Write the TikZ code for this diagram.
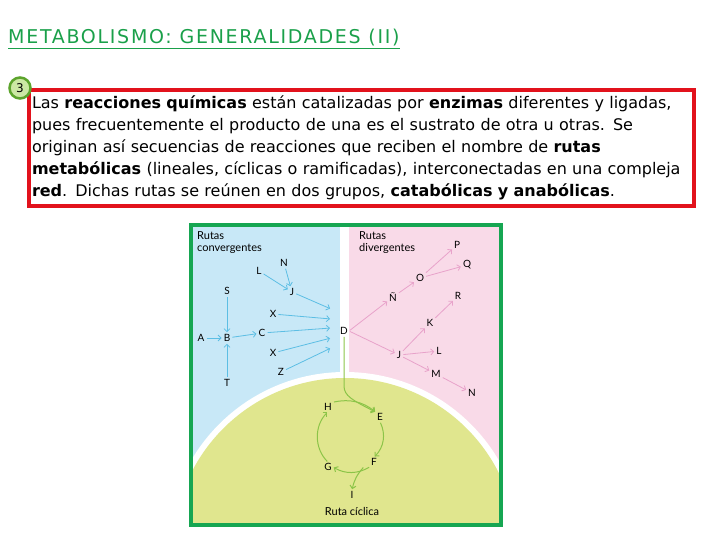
\documentclass[tikz,border=0pt]{standalone}
\usepackage{fontspec}
\setmainfont{DejaVu Sans}
\newfontfamily\titlefont[LetterSpace=9]{DejaVu Sans}
\newfontfamily\diagfont{Lato}
\usetikzlibrary{positioning, arrows.meta}

\definecolor{titlegreen}{RGB}{26,160,74}
\definecolor{boxred}{RGB}{226,18,28}
\definecolor{numfill}{RGB}{204,232,164}
\definecolor{numdraw}{RGB}{92,164,44}
\definecolor{panelgreen}{RGB}{22,166,82}
\definecolor{convblue}{RGB}{200,232,247}
\definecolor{divpink}{RGB}{249,218,232}
\definecolor{cycyellow}{RGB}{224,230,142}
\definecolor{convarrow}{RGB}{92,190,228}
\definecolor{divarrow}{RGB}{232,162,202}
\definecolor{cycarrow}{RGB}{140,196,72}

\begin{document}
\begin{tikzpicture}[
	x=1pt,
	y=-1pt,
	met/.style={font=\diagfont\fontsize{10}{10}\selectfont, inner sep=1pt},
	group label/.style={font=\diagfont\fontsize{11}{12.5}\selectfont, align=left, inner sep=0pt},
	conv/.style={draw=convarrow, line width=0.8pt, -{Straight Barb[length=3pt, width=6pt]}, shorten >=1pt, shorten <=1pt},
	div/.style={draw=divarrow, line width=0.8pt, -{Straight Barb[length=3pt, width=6pt]}, shorten >=1pt, shorten <=1pt},
	cyc/.style={draw=cycarrow, line width=1pt, -{Straight Barb[length=3pt, width=6pt]}, shorten >=1pt, shorten <=1pt}
]

\useasboundingbox (0,0) rectangle (720,540);

\node [anchor=base west, inner sep=0pt, text=titlegreen, font=\titlefont\fontsize{19}{20}\selectfont] (title) at (8,44) {\underline{METABOLISMO: GENERALIDADES (II)}};

\node [anchor=north west, draw=boxred, line width=3.5pt, outer sep=0pt, inner xsep=3pt, inner ysep=3pt,
	text width=659pt, minimum height=116pt, align=left, font=\fontsize{16}{22}\selectfont] (texto) at (29,90)
	{Las \textbf{reacciones químicas} están catalizadas por \textbf{enzimas} diferentes y ligadas,\\
	pues frecuentemente el producto de una es el sustrato de otra u otras. Se\\
	originan así secuencias de reacciones que reciben el nombre de \textbf{rutas}\\
	\textbf{metabólicas} (lineales, cíclicas o ramificadas), interconectadas en una compleja\\
	\textbf{red}. Dichas rutas se reúnen en dos grupos, \textbf{catabólicas y anabólicas}.};

\node [circle, fill=numfill, draw=numdraw, line width=2.5pt, minimum size=21pt, inner sep=0pt, font=\fontsize{12}{12}\selectfont] (num) at (20,88) {3};

\begin{scope}
	\clip (193,227) rectangle (499,523);
	\fill [convblue] (193,227) rectangle (340,523);
	\fill [divpink] (349,227) rectangle (499,523);
	\fill [white] (345,550) circle (178);
	\fill [cycyellow] (345,550) circle (172);
\end{scope}
\draw [panelgreen, line width=4pt] (191,225) rectangle (501,525);

\node [group label, anchor=north west] (conv-label) at (197,231) {Rutas\\convergentes};
\node [group label, anchor=north west] (div-label) at (359,231) {Rutas\\divergentes};

\foreach \n/\l/\x/\y in {N/N/284/263, L/L/259/271, J/J/292/292, S/S/227/291, X1/X/273/314, A/A/201/338, B/B/227/338, C/C/262/333, X2/X/273/353, Z/Z/281/372, T/T/227/383, D/D/344/331}
	\node [met] (conv-\n) at (\x,\y) {\l};

\foreach \n/\l/\x/\y in {P/P/457/245, Q/Q/467/265, O/O/420/278, NN/Ñ/393/297, R/R/458/296, K/K/430/323, J/J/399/355, L/L/439/351, M/M/436/374, N/N/472/393}
	\node [met] (div-\n) at (\x,\y) {\l};

\foreach \n/\x/\y in {H/328/407, E/380/417, F/374/462, G/328/467, I/352/495}
	\node [met] (cyc-\n) at (\x,\y) {\n};

\node [group label, anchor=base] (cyc-label) at (352,515) {Ruta cíclica};

\foreach \a/\b in {L/J, N/J, A/B, S/B, T/B, B/C}
	\draw [conv] (conv-\a) -- (conv-\b);

\foreach \n/\dy in {J/-22, X1/-12, C/-3, X2/7, Z/17}
	\draw [conv] (conv-\n) -- ([shift={(-8,\dy)}]conv-D.west);

\draw [div] (conv-D.east) -- (div-NN);
\draw [div] (conv-D.east) -- (div-J);
\foreach \a/\b in {NN/O, O/P, O/Q, J/K, K/R, J/L, J/M, M/N}
	\draw [div] (div-\a) -- (div-\b);

\draw [cyc] (conv-D.south) -- ++(0,50) .. controls +(0,10) and (352,400) .. (cyc-E.north west);
\draw [cyc] (cyc-H.north east) to [bend left=25] (cyc-E.north west);
\draw [cyc] (cyc-E.south) to [bend left=35] (cyc-F.north);
\draw [cyc] (cyc-F.south west) to [bend left=30] (cyc-G.east);
\draw [cyc] ([xshift=-6pt]cyc-F.south west) to [bend right=15] (cyc-I.north);
\draw [cyc] (cyc-G.north) to [bend left=45] (cyc-H.south);

\end{tikzpicture}
\end{document}
